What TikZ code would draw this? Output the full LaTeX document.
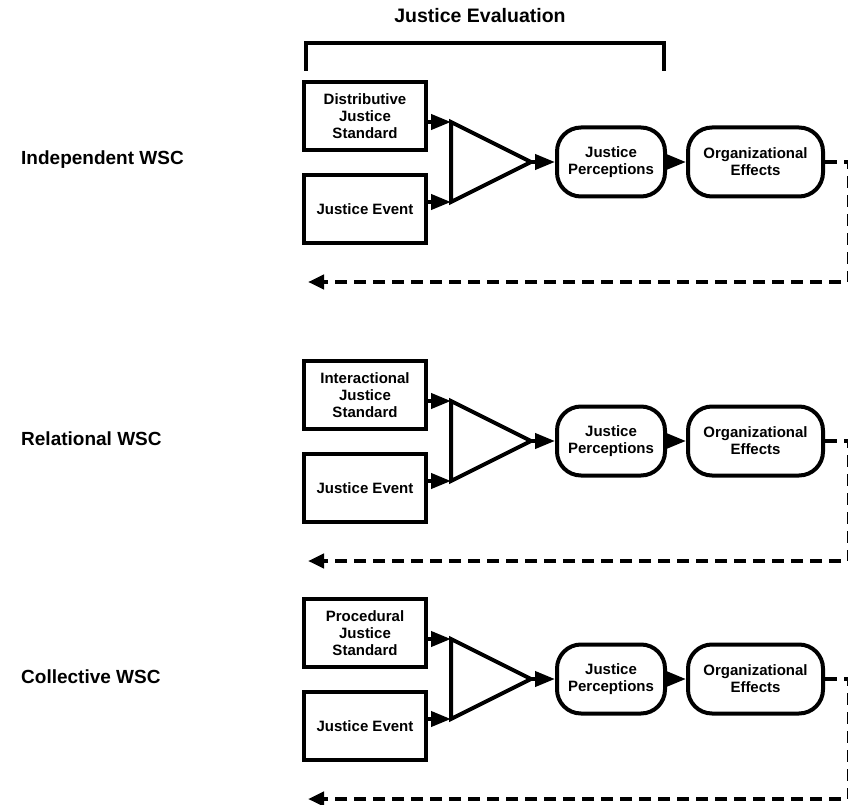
\documentclass[tikz,border=0pt]{standalone}
\usepackage{fontspec}
\setmainfont{Liberation Sans}
\usetikzlibrary{arrows.meta}

\begin{document}
\begin{tikzpicture}[x=1pt,y=-1pt,
  boxfont/.style={font=\bfseries\fontsize{15}{17}\selectfont},
  stdbox/.style={draw, line width=4pt, minimum width=122pt, minimum height=68pt,
    inner sep=0pt, align=center, boxfont},
  roundbox/.style={draw, line width=4pt, rounded corners=24pt, minimum height=69pt,
    inner sep=0pt, align=center, boxfont},
  flow/.style={line width=4pt, -{Triangle[length=20pt,width=15pt]}},
  feedback/.style={line width=4pt, dash pattern=on 12pt off 7pt,
    -{Triangle[length=16pt,width=14pt]}},
  combiner/.style={line width=4pt, line join=miter},
  rowlabel/.style={anchor=west, inner sep=0pt, font=\bfseries\fontsize{19}{22}\selectfont},
  bracket/.style={line width=4pt}
]
\useasboundingbox (0,0) rectangle (848,805);

% heading and bracket over the evaluation stage
\node[inner sep=0pt, font=\bfseries\fontsize{19.5}{22}\selectfont] (title) at (480,16) {Justice Evaluation};
\coordinate (brL) at (306,71);
\coordinate (brR) at (664,71);
\draw[bracket] (brL) -- (306,43) -- (664,43) -- (brR);

% one row per climate type
\foreach \r/\c/\std/\lab in {
  1/162/{Distributive\\Justice\\Standard}/{Independent WSC},
  2/441/{Interactional\\Justice\\Standard}/{Relational WSC},
  3/679/{Procedural\\Justice\\Standard}/{Collective WSC}}{
  \node[rowlabel] (lab\r) at (21,\c-2) {\lab};
  \node[stdbox] (std\r) at (365,\c-46) {\std};
  \node[stdbox] (evt\r) at (365,\c+47) {Justice Event};
  % comparison triangle
  \coordinate (ta\r) at (451,\c-40);
  \coordinate (tb\r) at (451,\c+40);
  \coordinate (tc\r) at (531,\c);
  \draw[combiner] (ta\r) -- (tc\r) -- (tb\r) -- cycle;
  \node[roundbox, minimum width=108pt] (jp\r) at (611,\c) {Justice\\Perceptions};
  \node[roundbox, minimum width=135pt] (oe\r) at (755.5,\c) {Organizational\\Effects};
  \draw[flow] (std\r.east |- ta\r) -- (ta\r);
  \draw[flow] (evt\r.east |- tb\r) -- (tb\r);
  \draw[flow] (tc\r) -- (jp\r.west);
  \draw[flow] (jp\r.east) -- (oe\r.west);
  % feedback loop back to the start of the row
  \coordinate (fu\r) at (849,\c);
  \coordinate (fd\r) at (849,\c+120);
  \coordinate (fb\r) at (308,\c+120);
  \draw[feedback] (oe\r.east) -- (fu\r) -- (fd\r) -- (fb\r);
}
\end{tikzpicture}
\end{document}
